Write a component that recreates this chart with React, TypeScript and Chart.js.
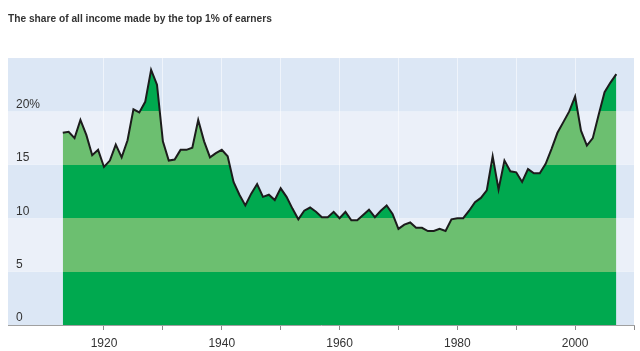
import React, { useEffect, useRef } from 'react';
import { Chart, registerables } from 'chart.js';

Chart.register(...registerables);

const chartTitle = 'The share of all income made by the top 1% of earners';

const years = [
  1913, 1914, 1915, 1916, 1917, 1918, 1919, 1920, 1921, 1922, 1923, 1924, 1925, 1926, 1927, 1928, 1929,
  1930, 1931, 1932, 1933, 1934, 1935, 1936, 1937, 1938, 1939, 1940, 1941, 1942, 1943, 1944, 1945, 1946,
  1947, 1948, 1949, 1950, 1951, 1952, 1953, 1954, 1955, 1956, 1957, 1958, 1959, 1960, 1961, 1962, 1963,
  1964, 1965, 1966, 1967, 1968, 1969, 1970, 1971, 1972, 1973, 1974, 1975, 1976, 1977, 1978, 1979, 1980,
  1981, 1982, 1983, 1984, 1985, 1986, 1987, 1988, 1989, 1990, 1991, 1992, 1993, 1994, 1995, 1996, 1997,
  1998, 1999, 2000, 2001, 2002, 2003, 2004, 2005, 2006, 2007,
];

const shares = [
  18.0, 18.1, 17.5, 19.2, 17.8, 15.9, 16.4, 14.8, 15.4, 16.9, 15.7, 17.3, 20.2, 19.9, 20.9, 23.9, 22.5,
  17.2, 15.4, 15.5, 16.4, 16.4, 16.6, 19.2, 17.2, 15.7, 16.1, 16.4, 15.8, 13.4, 12.2, 11.2, 12.3, 13.2,
  12.0, 12.2, 11.7, 12.8, 12.0, 10.9, 9.9, 10.7, 11.0, 10.6, 10.1, 10.1, 10.6, 10.0, 10.6, 9.8, 9.8,
  10.3, 10.8, 10.1, 10.7, 11.2, 10.4, 9.0, 9.4, 9.6, 9.1, 9.1, 8.8, 8.8, 9.0, 8.8, 9.9, 10.0,
  10.0, 10.7, 11.5, 11.9, 12.6, 15.8, 12.7, 15.4, 14.4, 14.3, 13.4, 14.6, 14.2, 14.2, 15.1, 16.5, 18.0,
  19.0, 20.0, 21.4, 18.2, 16.8, 17.5, 19.7, 21.8, 22.7, 23.5,
];

const bandEdges = [0, 5, 10, 15, 20, 25];
const yTickValues = [0, 5, 10, 15, 20];
const yTickLabels = ['0', '5', '10', '15', '20%'];
const xTickYears = [1920, 1930, 1940, 1950, 1960, 1970, 1980, 1990, 2000, 2010];
const xLabelYears = [1920, 1940, 1960, 1980, 2000];

const BG_COLORS = ['#dce7f5', '#ebf0f9'];
const FILL_COLORS = ['#00a94f', '#6cbf70'];

const bandPlugin = {
  id: 'bgBands',
  beforeDraw(chart: any) {
    const { ctx, chartArea, scales } = chart;
    if (!chartArea) return;
    const y = scales.y;
    ctx.save();
    for (let i = 0; i < bandEdges.length - 1; i++) {
      const top = y.getPixelForValue(bandEdges[i + 1]);
      const bottom = y.getPixelForValue(bandEdges[i]);
      ctx.fillStyle = BG_COLORS[i % 2];
      ctx.fillRect(chartArea.left, top, chartArea.right - chartArea.left, bottom - top);
    }
    ctx.restore();
  },
};

export default function App() {
  const canvasRef = useRef<HTMLCanvasElement | null>(null);

  useEffect(() => {
    const canvas = canvasRef.current;
    if (!canvas) return;
    const tickFont = { family: '"Liberation Sans", Arial, sans-serif', size: 12 };
    const chart = new Chart(canvas, {
      type: 'line',
      data: {
        datasets: [
          {
            data: years.map((yr, i) => ({ x: yr, y: shares[i] })),
            borderColor: '#1c1c1c',
            borderWidth: 2,
            pointRadius: 0,
            tension: 0,
            fill: 'origin',
            backgroundColor: (c: any) => {
              const ch = c.chart;
              if (!ch.chartArea) return FILL_COLORS[0];
              const ys = ch.scales.y;
              const e0 = bandEdges[0];
              const eN = bandEdges[bandEdges.length - 1];
              const g = ch.ctx.createLinearGradient(0, ys.getPixelForValue(e0), 0, ys.getPixelForValue(eN));
              for (let i = 0; i < bandEdges.length - 1; i++) {
                const f0 = (bandEdges[i] - e0) / (eN - e0);
                const f1 = (bandEdges[i + 1] - e0) / (eN - e0);
                g.addColorStop(f0, FILL_COLORS[i % 2]);
                g.addColorStop(f1, FILL_COLORS[i % 2]);
              }
              return g;
            },
          },
        ],
      },
      options: {
        animation: false,
        responsive: false,
        devicePixelRatio: 1,
        layout: { padding: { left: 8, right: 6, top: 0, bottom: 1 } },
        plugins: {
          legend: { display: false },
          tooltip: { enabled: false },
          title: {
            display: true,
            text: chartTitle,
            align: 'start',
            color: '#333333',
            font: { family: '"Liberation Sans", Arial, sans-serif', size: 10.2, weight: 'bold' },
            padding: { top: 13, bottom: 32.8 },
          },
        },
        scales: {
          x: {
            type: 'linear',
            min: 1903.7,
            max: 2010,
            z: 1,
            afterBuildTicks: (scale: any) => {
              scale.ticks = xTickYears.map((v) => ({ value: v }));
            },
            afterFit: (scale: any) => {
              scale.paddingLeft = 0;
              scale.paddingRight = 0;
              scale.height = 25;
            },
            ticks: {
              color: '#333333',
              font: tickFont,
              padding: 6,
              maxRotation: 0,
              autoSkip: false,
              callback: (v: any) => (xLabelYears.includes(Number(v)) ? String(v) : ''),
            },
            grid: {
              color: 'rgba(255,255,255,0.55)',
              lineWidth: 1,
              drawTicks: true,
              tickLength: 5,
              tickColor: '#8a8a8a',
            },
            border: { display: true, color: '#a0a0a0', width: 1 },
          },
          y: {
            type: 'linear',
            min: 0,
            max: 25,
            afterBuildTicks: (scale: any) => {
              scale.ticks = yTickValues.map((v) => ({ value: v }));
            },
            afterFit: (scale: any) => {
              scale.width = 0;
              scale.paddingTop = 0;
              scale.paddingBottom = 0;
            },
            ticks: {
              mirror: true,
              padding: 8,
              labelOffset: -7,
              color: '#333333',
              font: tickFont,
              callback: (v: any) => {
                const idx = yTickValues.indexOf(Number(v));
                return idx >= 0 ? yTickLabels[idx] : '';
              },
            },
            grid: { display: false, drawTicks: false },
            border: { display: false },
          },
        },
      },
      plugins: [bandPlugin],
    });
    return () => chart.destroy();
  }, []);

  return (
    <div style={{ position: 'fixed', left: 0, top: 0, width: 640, height: 351, background: '#ffffff' }}>
      <canvas ref={canvasRef} width={640} height={351} />
    </div>
  );
}
